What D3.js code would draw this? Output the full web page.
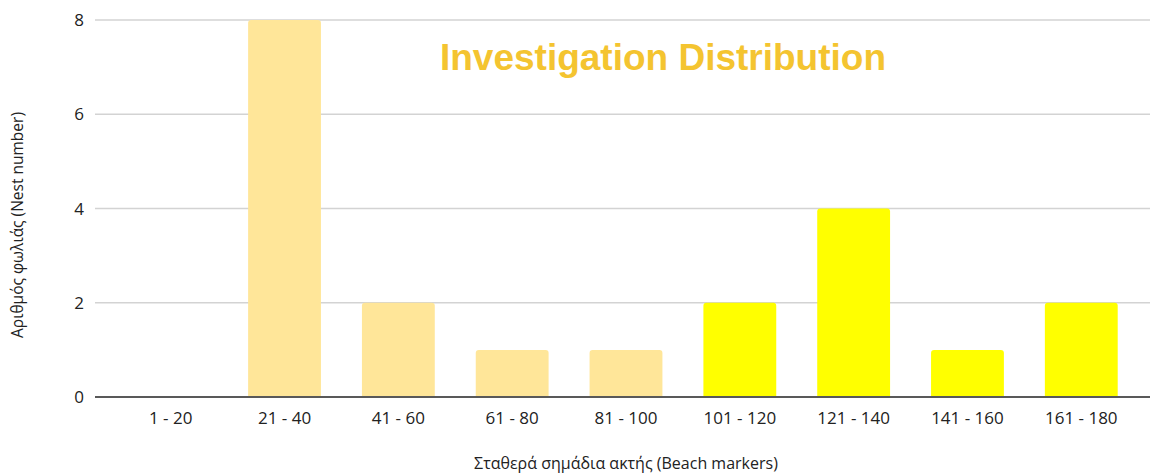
<!DOCTYPE html>
<html><head><meta charset="utf-8">
<script src="https://cdn.jsdelivr.net/npm/d3@7"></script>
<style>body{margin:0;background:#fff}svg{display:block}</style>
</head><body>
<script>
const categories = ["1 - 20","21 - 40","41 - 60","61 - 80","81 - 100","101 - 120","121 - 140","141 - 160","161 - 180"];
const values = [0, 8, 2, 1, 1, 2, 4, 1, 2];
const groups = ["a","a","a","a","a","b","b","b","b"];
const yTicks = [0, 2, 4, 6, 8];
const colors = {a:"#FFE699", b:"#FFFF00"};

const W = 1155, H = 474;
const svg = d3.select("body").append("svg").attr("width", W).attr("height", H);

const x = d3.scaleBand().domain(categories).range([113.8, 1138.2]).paddingInner(0.36).paddingOuter(0.18);
const y = d3.scaleLinear().domain([0, 8]).range([397, 20]);
const gridX0 = 95, gridX1 = 1150;

svg.append("g").selectAll("line").data(yTicks.filter(d => d > 0)).join("line")
  .attr("x1", gridX0).attr("x2", gridX1)
  .attr("y1", d => y(d)).attr("y2", d => y(d))
  .attr("stroke", "#d3d3d3").attr("stroke-width", 1.5);

svg.append("g").selectAll("text").data(yTicks).join("text")
  .attr("x", 84).attr("y", d => y(d)).attr("dy", "0.36em")
  .attr("text-anchor", "end").attr("font-family", "Open Sans, sans-serif").attr("font-size", 17)
  .attr("fill", "#222").text(d => d);

svg.append("g").selectAll("path").data(values.map((v,i)=>({v,c:categories[i],g:groups[i]})).filter(d=>d.v>0)).join("path")
  .attr("fill", d => colors[d.g])
  .attr("d", d => {
    const x0 = x(d.c), w = x.bandwidth(), y0 = y(d.v), y1 = y(0), r = 3;
    return `M${x0},${y1}V${y0+r}Q${x0},${y0} ${x0+r},${y0}H${x0+w-r}Q${x0+w},${y0} ${x0+w},${y0+r}V${y1}Z`;
  });

svg.append("line").attr("x1", gridX0).attr("x2", gridX1).attr("y1", y(0)).attr("y2", y(0))
  .attr("stroke", "#595959").attr("stroke-width", 2);

svg.append("g").selectAll("text").data(categories).join("text")
  .attr("x", d => x(d) + x.bandwidth()/2).attr("y", 424)
  .attr("text-anchor", "middle").attr("font-family", "Open Sans, sans-serif").attr("font-size", 17)
  .attr("fill", "#222").text(d => d);

svg.append("text").attr("x", 663).attr("y", 70).attr("text-anchor", "middle")
  .attr("font-family", "Liberation Sans, Arial, sans-serif").attr("font-weight", "bold")
  .attr("font-size", 37).attr("fill", "#F4C430").text("Investigation Distribution");

svg.append("text").attr("x", 626).attr("y", 469).attr("text-anchor", "middle")
  .attr("font-family", "Open Sans, sans-serif").attr("font-size", 16).attr("fill", "#222")
  .text("Σταθερά σημάδια ακτής (Beach markers)");

svg.append("text").attr("transform", "translate(23,225) rotate(-90)").attr("text-anchor", "middle")
  .attr("font-family", "Open Sans, sans-serif").attr("font-size", 15.5).attr("fill", "#222")
  .text("Αριθμός φωλιάς (Nest number)");
</script>
</body></html>
